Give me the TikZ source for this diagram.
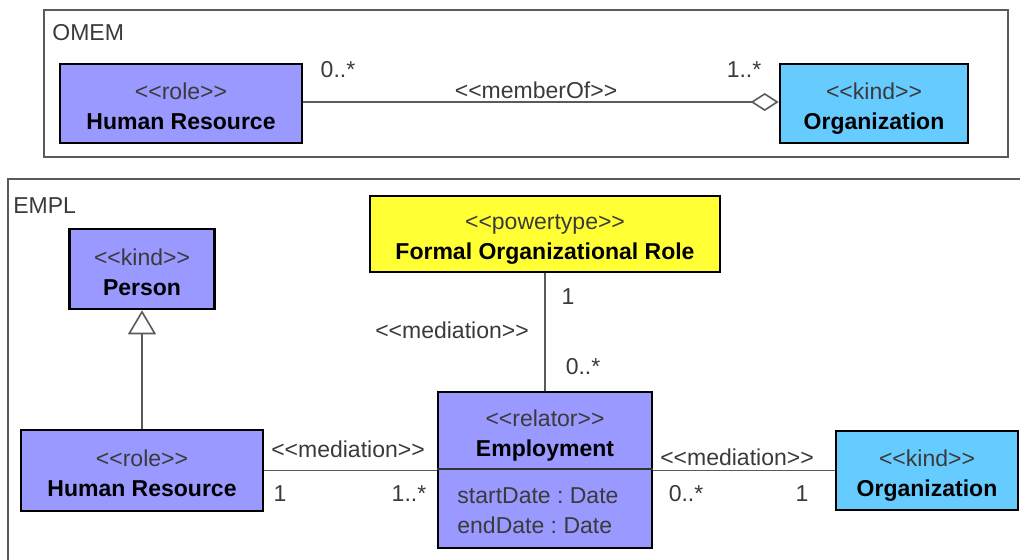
\documentclass[tikz,border=0pt]{standalone}
\usepackage{fontspec}
\setmainfont{Liberation Sans}[Ligatures=TeXOff]
\usetikzlibrary{arrows.meta}
\frenchspacing
\definecolor{rolecol}{HTML}{9999FF}
\definecolor{kindcol}{HTML}{66CCFF}
\definecolor{ptypecol}{HTML}{FFFF33}
\definecolor{linecol}{HTML}{5A5A5A}
\definecolor{textcol}{HTML}{3A3A3A}
\newcommand{\stereo}[1]{{\color{textcol}<<#1>>}\rule{0pt}{13pt}}
\newcommand{\clsname}[1]{\textbf{#1}\rule[-2pt]{0pt}{2pt}}

\begin{document}
\begin{tikzpicture}[x=0.5pt,y=-0.5pt,
    cls/.style={draw=black,line width=1.3pt,inner sep=0pt,align=center,
      font=\fontsize{11.5}{15}\selectfont},
    lbl/.style={inner sep=0pt,text=textcol,font=\fontsize{11.5}{14}\selectfont},
    assoc/.style={draw=linecol,line width=0.8pt},
    frame/.style={draw=linecol,line width=0.6pt}]
  \useasboundingbox (0,0) rectangle (1020,559);

  \draw[frame] (44,10) rectangle (1008,157);
  \node[lbl,anchor=west] (omem) at (52,33) {OMEM};
  \node[cls,fill=rolecol,minimum width=121pt,minimum height=39.5pt]
    (hrtop) at (181,103.5) {\stereo{role}\\\clsname{Human Resource}};
  \node[cls,fill=kindcol,minimum width=94pt,minimum height=39.5pt]
    (orgtop) at (874,103.5) {\stereo{kind}\\\clsname{Organization}};
  \draw[assoc,-{Diamond[open,length=14pt,width=9pt]}]
    (hrtop.east |- 0,102) -- (orgtop.west |- 0,102);
  \node[lbl] (mtop) at (338,70) {0..*};
  \node[lbl] (memberof) at (536,90) {<<memberOf>>};
  \node[lbl] (ntop) at (744,70) {1..*};

  \draw[frame] (8,570) -- (8,179) -- (1030,179);
  \node[lbl,anchor=west] (empl) at (13,206) {EMPL};
  \node[cls,fill=rolecol,minimum width=72.5pt,minimum height=40pt]
    (person) at (142,269) {\stereo{kind}\\\clsname{Person}};
  \node[cls,fill=rolecol,minimum width=121pt,minimum height=40.5pt]
    (hrbot) at (142,470.5) {\stereo{role}\\\clsname{Human Resource}};
  \node[cls,fill=ptypecol,minimum width=175pt,minimum height=38pt]
    (formal) at (545,234) {\stereo{powertype}\\\clsname{Formal Organizational Role}};
  \node[cls,fill=rolecol,minimum width=107pt,minimum height=78pt]
    (emp) at (545,470) {};
  \coordinate (div) at (545,469);
  \draw[line width=0.8pt,draw=black!80] (emp.west |- div) -- (emp.east |- div);
  \node[cls,draw=none] (empname) at (545,431) {\stereo{relator}\\\clsname{Employment}};
  \node[lbl,anchor=west,align=left,font=\fontsize{11.5}{15}\selectfont]
    (empattr) at (457,511) {startDate : Date\\endDate : Date};
  \node[cls,fill=kindcol,minimum width=91pt,minimum height=39.5pt]
    (orgbot) at (927,470.5) {\stereo{kind}\\\clsname{Organization}};

  \draw[assoc,-{Triangle[open,length=12pt,width=14pt]}] (hrbot) -- (person);
  \draw[assoc] (formal) -- (emp);
  \draw[assoc] (hrbot) -- (emp.west |- hrbot);
  \draw[assoc] (emp.east |- orgbot) -- (orgbot);

  \node[lbl] (m1) at (568,297) {1};
  \node[lbl] (med1) at (452,330) {<<mediation>>};
  \node[lbl] (m2) at (583,367) {0..*};
  \node[lbl] (med2) at (348,449) {<<mediation>>};
  \node[lbl] (m3) at (280,494) {1};
  \node[lbl] (m4) at (409,494) {1..*};
  \node[lbl] (med3) at (737,457) {<<mediation>>};
  \node[lbl] (m5) at (686,494) {0..*};
  \node[lbl] (m6) at (802,494) {1};
\end{tikzpicture}
\end{document}
